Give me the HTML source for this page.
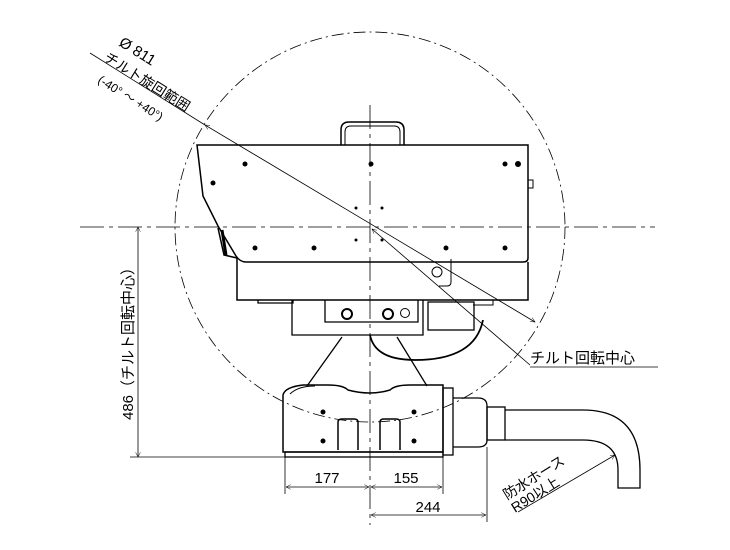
<!DOCTYPE html>
<html><head><meta charset="utf-8"><style>html,body{margin:0;padding:0;background:#fff}svg{display:block}</style></head><body>
<svg width="730" height="550" viewBox="0 0 730 550" xmlns="http://www.w3.org/2000/svg" font-family="Liberation Sans, Noto Sans CJK JP, sans-serif">
<defs>
<marker id="a" viewBox="0 0 10 10" refX="10" refY="5" markerWidth="9" markerHeight="6" orient="auto-start-reverse"><path d="M0,0 L10,5 L0,10" fill="none" stroke="#000" stroke-width="1"/></marker>
</defs>
<g fill="none" stroke="#000" stroke-width="1">
<circle cx="370" cy="227" r="195" stroke-dasharray="12,4,2,4" stroke-width="0.8"/>
<line x1="80" y1="227" x2="655" y2="227" stroke-dasharray="24,5,4,5" stroke-width="0.8"/>
<line x1="370" y1="105" x2="370" y2="525" stroke-dasharray="24,5,4,5" stroke-width="0.8"/>
<path d="M341,145 V130 q0,-8 8,-8 h47 q8,0 8,8 V145" stroke-width="1.5"/>
<path d="M345,145 V132 q0,-6 6,-6 h43 q6,0 6,6 V145" stroke-width="1"/>
<path d="M197,145 H528 V258 q0,4 -5,4 H246 q-6,0 -10,-6 L218,226 L203,196 Z" stroke-width="1.5"/>
<path d="M218,228 L224,255 L237,258 V300 H528 V262" stroke-width="1.5"/>
<path d="M222,230 L226,255" stroke-width="3"/>
<rect x="528" y="180" width="5" height="8" stroke-width="1"/>
<path d="M258,300 v3 h35 v-3 M292,300 V335 H423 V300" stroke-width="1.3"/>
<path d="M325,300 V322 H418 V300" stroke-width="1.3"/>
<rect x="428" y="302" width="46" height="28" stroke-width="1.3"/>
<path d="M473,300 h20 v5 h-20" stroke-width="1"/>
<circle cx="347" cy="314" r="5" stroke-width="2"/>
<circle cx="388" cy="314" r="5" stroke-width="2"/>
<circle cx="405" cy="313" r="4.5"/>
<circle cx="437" cy="272" r="5"/>
<path d="M451,259 V282 q0,4 -4,4 h-8" stroke-width="1"/>
<path d="M370,335 q5,25 45,25 q60,0 68,-40" stroke-width="1.8"/>
<path d="M342,337 L307,386 M397,337 L427,386" stroke-width="1.3"/>
<path d="M283,395 q2,-8 20,-10 h25 q15,0 20,5 q22,6 42,0 q5,-5 20,-5 h33 V452 H283 Z" stroke-width="1.5"/>
<path d="M290,394 q8,-8 25,-8" stroke-width="1"/>
<rect x="443" y="388" width="10" height="67" stroke-width="1.3"/>
<rect x="285" y="452" width="158" height="5" stroke-width="1.3"/>
<path d="M338,450 V422 q0,-3 4,-3 h12 q4,0 4,3 V450 M380,450 V422 q0,-3 4,-3 h12 q4,0 4,3 V450" stroke-width="1.5"/>
<path d="M453,398 H478 q9,0 9,8 V440 q0,7 -9,7 H453" stroke-width="1.3"/>
<rect x="487" y="407" width="18" height="33" stroke-width="1.3"/>
<path d="M505,410 H583 Q640,410 640,470 V488 H618 V470 Q618,440 583,440 H505" stroke-width="1.3"/>
<line x1="138" y1="227" x2="138" y2="457" marker-start="url(#a)" marker-end="url(#a)" stroke-width="0.8"/>
<line x1="130" y1="457" x2="285" y2="457" stroke-width="0.8"/>
<line x1="285" y1="457" x2="285" y2="494" stroke-width="0.8"/>
<line x1="443" y1="455" x2="443" y2="494" stroke-width="0.8"/>
<line x1="487" y1="447" x2="487" y2="522" stroke-width="0.8"/>
<line x1="286" y1="487" x2="369" y2="487" marker-start="url(#a)" marker-end="url(#a)" stroke-width="0.8"/>
<line x1="371" y1="487" x2="442" y2="487" marker-start="url(#a)" marker-end="url(#a)" stroke-width="0.8"/>
<line x1="371" y1="515" x2="486" y2="515" marker-start="url(#a)" marker-end="url(#a)" stroke-width="0.8"/>
<line x1="90" y1="53" x2="205" y2="125" stroke-width="0.8"/>
<line x1="205" y1="125" x2="535" y2="322" marker-start="url(#a)" marker-end="url(#a)" stroke-width="0.8"/>
<line x1="372" y1="229" x2="530" y2="365" marker-start="url(#a)" stroke-width="0.8"/>
<line x1="530" y1="367" x2="658" y2="367" stroke-width="0.8"/>
<line x1="518" y1="512" x2="615" y2="455" marker-end="url(#a)" stroke-width="0.8"/>
</g>
<g fill="#000">
<circle cx="245" cy="164" r="2.5"/>
<circle cx="213" cy="183" r="2.5"/><circle cx="371" cy="164" r="2.5"/>
<circle cx="505" cy="164" r="2.5"/><circle cx="518" cy="164" r="3"/>
<circle cx="255" cy="248" r="2.5"/><circle cx="314" cy="248" r="2.5"/>
<circle cx="446" cy="248" r="2.5"/><circle cx="505" cy="248" r="2.5"/>
<circle cx="356" cy="208" r="1.5"/><circle cx="382" cy="208" r="1.5"/>
<circle cx="356" cy="240" r="1.5"/><circle cx="382" cy="240" r="1.5"/>
<circle cx="323" cy="412" r="2.5"/><circle cx="414" cy="412" r="2.5"/>
<circle cx="323" cy="441" r="2.5"/><circle cx="414" cy="441" r="2.5"/>
</g>
<g fill="#000">
<text x="406" y="483" text-anchor="middle" font-size="15">155</text>
<text x="327" y="483" text-anchor="middle" font-size="15">177</text>
<text x="428" y="512" text-anchor="middle" font-size="15">244</text>
<text x="530" y="363" font-size="15">チルト回転中心</text>
<text transform="translate(133,340) rotate(-90)" text-anchor="middle" font-size="15">486（チルト回転中心）</text>
<text transform="translate(118,45) rotate(32)" font-size="15">Ø 811</text>
<text transform="translate(103,60) rotate(32)" font-size="14">チルト旋回範囲</text>
<text transform="translate(97,82) rotate(32)" font-size="12">(-40° ～ +40°)</text>
<text transform="translate(507,500) rotate(-32)" font-size="14">防水ホース</text>
<text transform="translate(515,513) rotate(-32)" font-size="14">R90以上</text>
</g>
</svg>
</body></html>
